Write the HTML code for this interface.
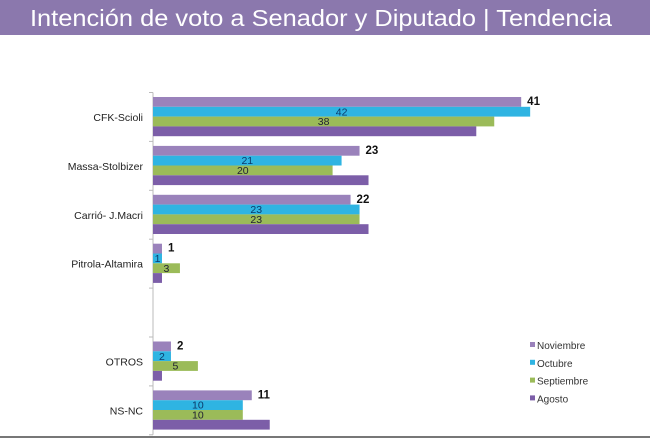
<!DOCTYPE html>
<html><head><meta charset="utf-8"><style>
body{margin:0;background:#fff;width:650px;height:439px;overflow:hidden;font-family:"Liberation Sans",sans-serif}
</style></head><body>
<svg id="chart" width="650" height="439" xmlns="http://www.w3.org/2000/svg">
<rect x="0" y="0" width="650" height="35" fill="#8b78ad"/>
<text x="30" y="26" font-size="23" fill="#fff" textLength="582" lengthAdjust="spacingAndGlyphs">Intención de voto a Senador y Diputado | Tendencia</text>
<line x1="0" y1="437" x2="650" y2="437" stroke="#777" stroke-width="2"/>
<g id="plot"></g>
</svg>
<script>
const categories = ["CFK-Scioli","Massa-Stolbizer","Carrió- J.Macri","Pitrola-Altamira","","OTROS","NS-NC"];
const seriesNames = ["Noviembre","Octubre","Septiembre","Agosto"];
const noviembre = [41,23,22,1,null,2,11];
const octubre = [42,21,23,1,null,2,10];
const septiembre = [38,20,23,3,null,5,10];
const agosto = [36,24,24,1,null,1,13];
const series = [noviembre, octubre, septiembre, agosto];
const colors = ["#9a82bb","#2fb4e2","#9bbb59","#7c5ea8"];
const NS="http://www.w3.org/2000/svg";
const g=document.getElementById('plot');
const x0=153, pxPer=8.98, top0=92.5, band=48.9, barH=9.8, barOff=4.5;
const xs=v=>x0+v*pxPer;
const yb=(c,s)=>top0+c*band+barOff+s*barH;
function mk(tag,attrs){const e=document.createElementNS(NS,tag);for(const k in attrs)e.setAttribute(k,attrs[k]);g.appendChild(e);return e;}
let ax=mk('line',{x1:x0,y1:top0,x2:x0,y2:top0+band*7,stroke:'#bbb'});


for(let i=0;i<=7;i++){const t=mk('line',{x1:x0-4,y1:top0+i*band,x2:x0,y2:top0+i*band,stroke:'#bbb'});

}
categories.forEach((c,ci)=>{
 if(c){const t=mk('text',{x:143,y:top0+ci*band+band/2+4,'font-size':10.5,'text-anchor':'end',fill:'#222'});t.textContent=c;
 
 }
 series.forEach((s,si)=>{
  const v=s[ci]; if(v==null)return;
  const r=mk('rect',{x:x0,y:yb(ci,si),width:xs(v)-x0,height:barH,fill:colors[si]});
  
  
  if(si===0){const t=mk('text',{x:xs(v)+6,y:yb(ci,si)+8,'font-size':11.5,'font-weight':'bold',fill:'#111'});t.textContent=v;
   
   }
  else if(si<3){const t=mk('text',{x:x0+(xs(v)-x0)/2,y:yb(ci,si)+8.5,'font-size':10.5,'text-anchor':'middle',fill:si===1?'#0b3a6a':'#223'});t.textContent=v;
   
   }
 });
});
seriesNames.forEach((n,i)=>{
 const y=346+i*17.8;
 const r=mk('rect',{x:530,y:y-4,width:5,height:5,fill:colors[i]});
 
 
 const t=mk('text',{x:537,y:y+3,'font-size':10,fill:'#333'});t.textContent=n;
 
 
});
</script>
</body></html>
